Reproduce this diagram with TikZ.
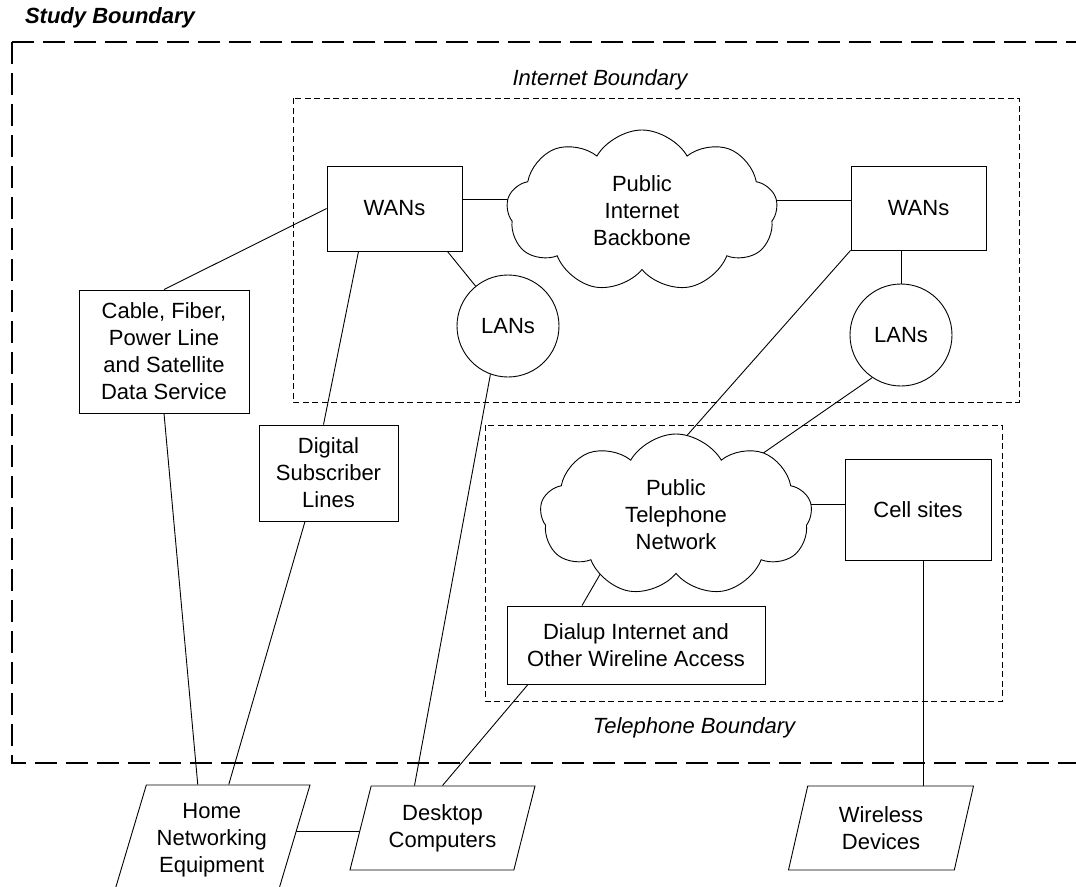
\documentclass[tikz,border=0pt]{standalone}
\usepackage{fontspec}
\setmainfont{Liberation Sans}
\usetikzlibrary{shapes.geometric,shapes.symbols,calc}
\pgfdeclarelayer{bg}
\pgfsetlayers{bg,main}
\begin{document}
\begin{tikzpicture}[x=1pt,y=-1pt,line width=0.9pt]
\tikzstyle{every node}=[font=\fontsize{22}{27}\selectfont,align=center,inner sep=0pt]
\tikzstyle{box}=[draw,fill=white,rectangle]
\tikzstyle{lan}=[draw,fill=white,circle,minimum size=102pt]
\tikzstyle{net}=[draw,fill=white,cloud,cloud puffs=9,cloud puff arc=120,cloud ignores aspect]
\tikzstyle{dev}=[draw,fill=white,trapezium,trapezium left angle=66,trapezium right angle=114,
  trapezium stretches body,minimum height=84pt,minimum width=185pt]
\tikzstyle{border}=[dash pattern=on 6pt off 3.5pt,line width=0.8pt]
\tikzstyle{link}=[line width=0.9pt]
\tikzstyle{lbl}=[font=\fontsize{22}{27}\selectfont\itshape]
\useasboundingbox (0,0) rectangle (1076,886);

% boundaries
\draw[line width=2.6pt,dash pattern=on 22pt off 9pt] (12,42) rectangle (1100,763);
\draw[border] (293,98) rectangle (1019,402);
\draw[border] (485,425) rectangle (1002,701);
\node[lbl,font=\fontsize{22}{27}\selectfont\bfseries\itshape] (studyLbl) at (110,18) {Study Boundary};
\node[lbl] (inetLbl) at (600,80) {Internet Boundary};
\node[lbl] (telLbl) at (694,728) {Telephone Boundary};

% networks
\node[box,minimum width=135pt,minimum height=85pt] (wanL) at (394.5,208.5) {WANs};
\node[box,minimum width=135pt,minimum height=84pt] (wanR) at (918.5,208) {WANs};
\node[net,minimum width=271pt,minimum height=162pt] (inet) at (642,211) {Public\\Internet\\Backbone};
\node[net,minimum width=272pt,minimum height=162pt] (ptn) at (676,515) {Public\\Telephone\\Network};
\node[lan] (lanL) at (508,326) {LANs};
\node[lan] (lanR) at (901,335) {LANs};

% access
\node[box,minimum width=170pt,minimum height=123pt] (cable) at (164,351.5) {Cable, Fiber,\\Power Line\\and Satellite\\Data Service};
\node[box,minimum width=139pt,minimum height=96pt] (dsl) at (328.5,473) {Digital\\Subscriber\\Lines};
\node[box,minimum width=146pt,minimum height=101pt] (cell) at (918,509.5) {Cell sites};
\node[box,minimum width=258pt,minimum height=78pt] (dialup) at (636,645) {Dialup Internet and\\Other Wireline Access};

% devices
\foreach \name/\x/\txt in {desk/442.5/{Desktop\\Computers},wire/881/{Wireless\\Devices}}
 \node[dev] (\name) at (\x,828) {\txt};
\node[dev,minimum height=110pt,minimum width=196.5pt] (home) at (211.75,840) {Home\\Networking\\Equipment};

\coordinate (ptnA) at (660,466);
\coordinate (ptnB) at (746,465);
\coordinate (ptnC) at (606,564);

\begin{pgfonlayer}{bg}
\draw[link] ([yshift=9.5pt]wanL.east) -- ([yshift=9.5pt]wanL.east -| inet);
\draw[link] ([yshift=8pt]wanR.west) -- ([yshift=8pt]wanR.west -| inet);
\draw[link] ([xshift=-15pt]wanL.south east) -- (lanL);
\draw[link] (lanR) -- (lanR |- wanR);
\draw[link] (wanL.west) -- (cable.north);
\draw[link] ([xshift=-36pt]wanL.south) -- ([xshift=-5pt]dsl.north);
\draw[link] (wanR.south west) -- (ptnA);
\draw[link] (lanR.236) -- (ptnB);
\draw[link] ([yshift=5.5pt]cell.west) -- ([yshift=5.5pt]cell.west -| ptn);
\draw[link] ([xshift=5pt]cell.south) -- ([xshift=5pt]cell.south |- wire.north);
\draw[link] ([xshift=-54pt]dialup.north) -- (ptnC);
\draw[link] ([xshift=-108pt]dialup.south) -- (desk.north);
\draw[link] (lanL.250) -- ([xshift=-28pt]desk.north);
\draw[link] (cable.south) -- ([xshift=-14pt]home.north);
\draw[link] ([xshift=-23.5pt]dsl.south) -- ([xshift=17pt]home.north);
\draw[link] ([yshift=-3pt]desk.center) -- ([yshift=-3pt]desk.center -| home.center);
\end{pgfonlayer}
\end{tikzpicture}
\end{document}
